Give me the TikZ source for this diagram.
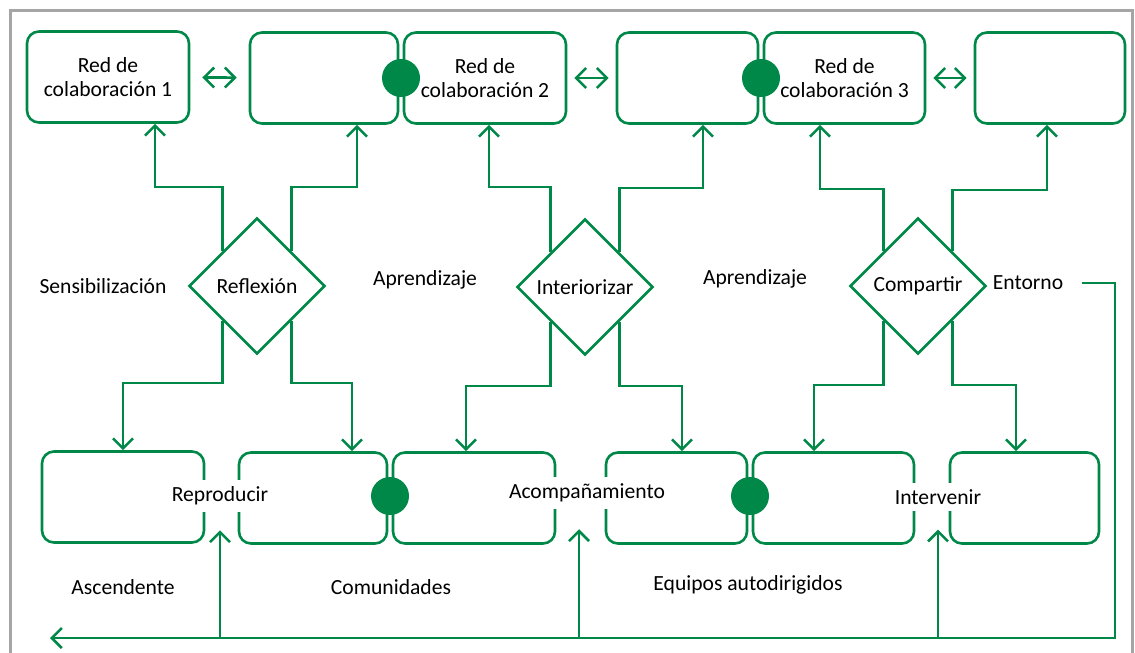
\documentclass[tikz,border=0pt]{standalone}
\usepackage{fontspec}
\setmainfont{Carlito}
\usetikzlibrary{arrows.meta,shapes.geometric}
\definecolor{verde}{RGB}{0,136,72}
\definecolor{marco}{RGB}{165,165,165}

\begin{document}
\begin{tikzpicture}[x=0.5pt,y=-0.5pt,
	font=\fontsize{10.8}{11.7}\selectfont,
	caja/.style={draw=verde, line width=1.3pt, rounded corners=6pt, minimum width=#1, minimum height=45.5pt, align=center},
	rombo/.style={diamond, draw=verde, line width=1.3pt, aspect=1, minimum size=68pt, inner sep=0pt},
	punto/.style={circle, fill=verde, minimum size=19pt, inner sep=0pt},
	etiqueta/.style={fill=white},
	flecha/.style={draw=verde, line width=1.3pt, -{Straight Barb[length=5pt,width=10pt]}},
	doble/.style={draw=verde, line width=1.3pt, {Straight Barb[length=5pt,width=10pt]}-{Straight Barb[length=5pt,width=10pt]}},
	]
	\useasboundingbox (0,0) rectangle (1135,653);
	%Marco
	\draw[marco, line width=1.5pt] (10.5,670) -- (10.5,10.5) -- (1132,10.5) -- (1132,670);
	
	%Redes de colaboracion
	\node[caja=81pt]   (r1)  at (108,77)    {Red de\\colaboración 1};
	\node[caja=74pt]   (r1b) at (324,78)    {};
	\node[caja=81pt]   (r2)  at (485,78)    {Red de\\colaboración 2};
	\node[caja=70.5pt] (r2b) at (687.5,78)  {};
	\node[caja=80.5pt] (r3)  at (844.5,78)  {Red de\\colaboración 3};
	\node[caja=75pt]   (r3b) at (1050,78)   {};
	\node[punto] (p1) at (401,78) {};
	\node[punto] (p2) at (761,78) {};
	
	%Rombos
	\node[rombo] (refl) at (257,286) {Reflexión};
	\node[rombo] (inte) at (585,287) {Interiorizar};
	\node[rombo] (comp) at (918,286) {Compartir};
	
	%Cajas de abajo
	\node[caja=81pt]   (s1) at (123,497)    {};
	\node[caja=74pt]   (s2) at (313,498)    {};
	\node[caja=81pt]   (s3) at (474,498)    {};
	\node[caja=70.5pt] (s4) at (676.5,498)  {};
	\node[caja=80.5pt] (s5) at (833.5,498)  {};
	\node[caja=74.5pt] (s6) at (1024.5,498) {};
	\node[punto] (p3) at (390,496) {};
	\node[punto] (p4) at (750,496) {};
	\node[etiqueta] (repr) at (220,496) {Reproducir};
	\node[etiqueta] (acom) at (587,493) {Acompañamiento};
	\node[etiqueta] (intv) at (938,497) {Intervenir};
	
	%Textos
	\node (sens) at (103,286) {Sensibilización};
	\node (apr1) at (425,280) {Aprendizaje};
	\node (apr2) at (755,279) {Aprendizaje};
	\node (ento) at (1028,283) {Entorno};
	\node (ascd) at (123,587) {Ascendente};
	\node (comu) at (391,587) {Comunidades};
	\node (equi) at (748,585) {Equipos autodirigidos};
	\coordinate (fin) at (50,638);
	
	%Lineas
	\draw[doble, shorten <=6pt, shorten >=6pt] (r1) -- (r1b);
	\draw[doble, shorten <=3.5pt, shorten >=3.5pt] (r2) -- (r2b);
	\draw[doble, shorten <=3.5pt, shorten >=3.5pt] (r3) -- (r3b);
	
	\draw[flecha] (refl.north west) |- (155,187) -- (r1.south -| 155,0);
	\draw[flecha] (refl.north east) |- (357,187) -- (r1b.south -| 357,0);
	\draw[flecha] (refl.south west) |- (123,383) -- (s1.north -| 123,0);
	\draw[flecha] (refl.south east) |- (352,383) -- (s2.north -| 352,0);
	
	\draw[flecha] (inte.north west) |- (489,187) -- (r2.south -| 489,0);
	\draw[flecha] (inte.north east) |- (703,188) -- (r2b.south -| 703,0);
	\draw[flecha] (inte.south west) |- (466,386) -- (s3.north -| 466,0);
	\draw[flecha] (inte.south east) |- (682,386) -- (s4.north -| 682,0);
	
	\draw[flecha] (comp.north west) |- (820,189) -- (r3.south -| 820,0);
	\draw[flecha] (comp.north east) |- (1047,190) -- (r3b.south -| 1047,0);
	\draw[flecha] (comp.south west) |- (814,385) -- (s5.north -| 814,0);
	\draw[flecha] (comp.south east) |- (1016,385) -- (s6.north -| 1016,0);
	
	\draw[flecha, shorten <=6pt] (ento.east) -| (1115,638) -- (fin);
	\draw[flecha, shorten >=9pt] (repr.south |- fin) -- (repr.south);
	\draw[flecha, shorten >=10pt] (fin -| 579,0) -- (acom.south -| 579,0);
	\draw[flecha, shorten >=9pt] (intv.south |- fin) -- (intv.south);
\end{tikzpicture}
\end{document}
